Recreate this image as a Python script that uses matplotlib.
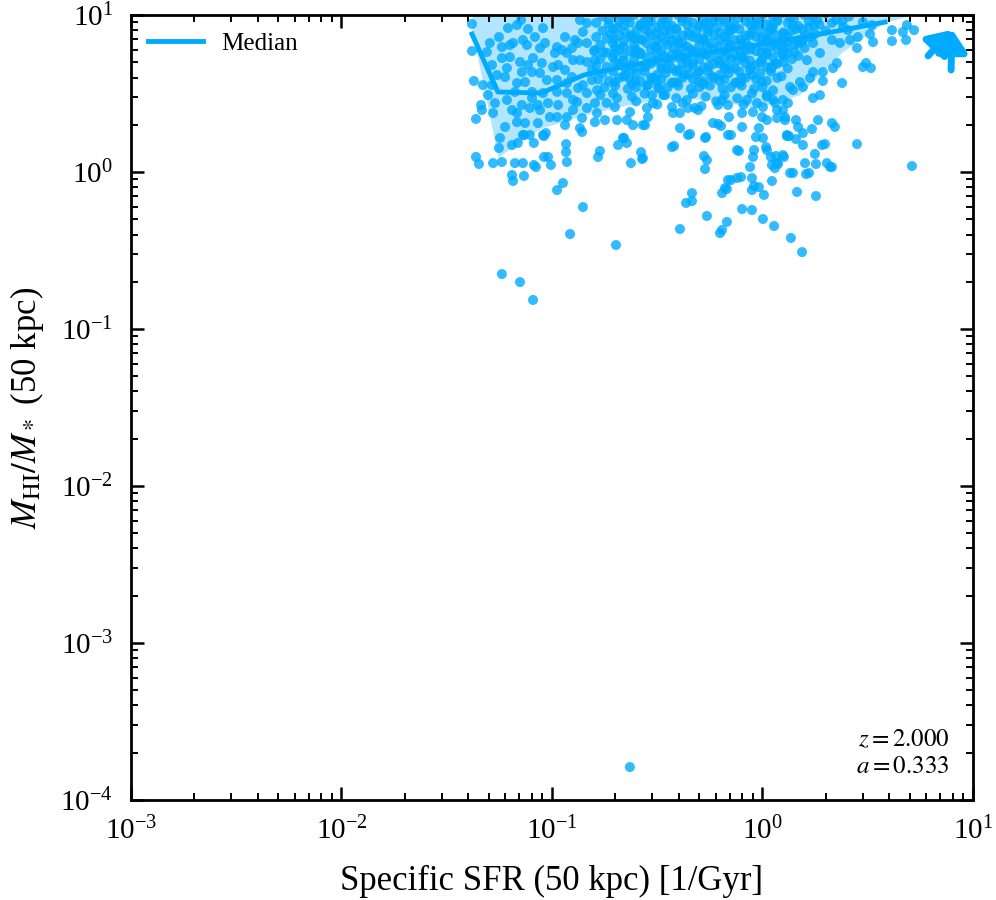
import numpy as np
import matplotlib.pyplot as plt

plt.rcParams['font.family'] = 'serif'
plt.rcParams['font.serif'] = ['Liberation Serif', 'DejaVu Serif']
plt.rcParams['mathtext.fontset'] = 'stix'

# all galaxy values given as log10(sSFR [1/Gyr]), log10(M_HI/M_*)
# dense core of the distribution
core = [
    [-0.76, 0.99], [-0.70, 1.01], [-0.66, 0.98], [-0.61, 1.00], [-0.55, 0.99], [-0.51, 1.01],
    [-0.45, 0.98], [-0.40, 1.00], [-0.36, 0.99], [-0.30, 1.01], [-0.25, 0.98], [-0.21, 1.00],
    [-0.15, 0.99], [-0.10, 1.01], [-0.06, 0.98], [0.00, 1.00], [0.05, 0.99], [0.09, 1.01],
    [0.15, 0.98], [0.20, 1.00], [0.24, 0.99], [0.30, 1.01], [0.35, 0.97], [0.41, 0.99],
    [-0.79, 0.95], [-0.73, 0.94], [-0.68, 0.96], [-0.63, 0.95], [-0.58, 0.94], [-0.53, 0.96],
    [-0.48, 0.95], [-0.43, 0.93], [-0.38, 0.96], [-0.33, 0.95], [-0.28, 0.94], [-0.23, 0.96],
    [-0.18, 0.95], [-0.13, 0.93], [-0.08, 0.96], [-0.03, 0.95], [0.02, 0.94], [0.07, 0.96],
    [0.12, 0.95], [0.17, 0.93], [0.22, 0.96], [0.27, 0.94], [0.33, 0.95],
    [-0.76, 0.90], [-0.71, 0.91], [-0.65, 0.89], [-0.60, 0.90], [-0.56, 0.91], [-0.50, 0.89],
    [-0.46, 0.90], [-0.41, 0.91], [-0.35, 0.89], [-0.31, 0.90], [-0.26, 0.91], [-0.20, 0.89],
    [-0.16, 0.90], [-0.11, 0.91], [-0.05, 0.89], [-0.01, 0.90], [0.04, 0.91], [0.10, 0.89],
    [0.14, 0.90], [0.19, 0.91], [0.25, 0.88], [0.30, 0.90],
    [-0.79, 0.86], [-0.74, 0.85], [-0.68, 0.87], [-0.63, 0.86], [-0.58, 0.85], [-0.53, 0.87],
    [-0.48, 0.86], [-0.43, 0.84], [-0.38, 0.87], [-0.33, 0.86], [-0.28, 0.85], [-0.23, 0.87],
    [-0.18, 0.86], [-0.13, 0.84], [-0.08, 0.87], [-0.03, 0.86], [0.02, 0.85], [0.07, 0.87],
    [0.12, 0.86], [0.17, 0.84], [0.23, 0.86],
    [-0.77, 0.81], [-0.71, 0.82], [-0.66, 0.80], [-0.61, 0.81], [-0.55, 0.82], [-0.51, 0.80],
    [-0.45, 0.81], [-0.40, 0.82], [-0.36, 0.80], [-0.30, 0.81], [-0.25, 0.82], [-0.21, 0.80],
    [-0.15, 0.81], [-0.10, 0.82], [-0.06, 0.80], [0.00, 0.81], [0.05, 0.82], [0.09, 0.80],
    [0.15, 0.81], [0.20, 0.79],
    [-0.80, 0.77], [-0.74, 0.76], [-0.68, 0.78], [-0.63, 0.77], [-0.58, 0.76], [-0.53, 0.78],
    [-0.48, 0.77], [-0.43, 0.75], [-0.38, 0.78], [-0.33, 0.77], [-0.28, 0.76], [-0.23, 0.78],
    [-0.18, 0.77], [-0.13, 0.75], [-0.08, 0.78], [-0.03, 0.77], [0.02, 0.76], [0.07, 0.78],
    [0.12, 0.76], [0.17, 0.74],
    [-0.77, 0.72], [-0.71, 0.73], [-0.66, 0.71], [-0.61, 0.72], [-0.55, 0.73], [-0.51, 0.71],
    [-0.45, 0.72], [-0.40, 0.73], [-0.36, 0.71], [-0.30, 0.72], [-0.25, 0.73], [-0.21, 0.71],
    [-0.15, 0.72], [-0.10, 0.73], [-0.06, 0.71], [0.00, 0.72], [0.05, 0.73], [0.10, 0.70],
    [0.14, 0.72],
    [-0.79, 0.68], [-0.74, 0.67], [-0.68, 0.69], [-0.63, 0.68], [-0.58, 0.67], [-0.53, 0.69],
    [-0.48, 0.68], [-0.43, 0.66], [-0.38, 0.69], [-0.33, 0.68], [-0.28, 0.67], [-0.23, 0.69],
    [-0.18, 0.68], [-0.13, 0.66], [-0.08, 0.69], [-0.03, 0.68], [0.02, 0.67], [0.07, 0.69],
    [0.12, 0.66],
    [-0.76, 0.63], [-0.71, 0.64], [-0.65, 0.62], [-0.60, 0.63], [-0.56, 0.64], [-0.50, 0.62],
    [-0.46, 0.63], [-0.41, 0.64], [-0.35, 0.62], [-0.31, 0.63], [-0.26, 0.64], [-0.20, 0.62],
    [-0.16, 0.63], [-0.11, 0.64], [-0.05, 0.62], [-0.01, 0.63], [0.04, 0.64], [0.09, 0.61],
    [-0.78, 0.59], [-0.73, 0.58], [-0.68, 0.60], [-0.63, 0.59], [-0.58, 0.58], [-0.53, 0.60],
    [-0.48, 0.59], [-0.43, 0.57], [-0.38, 0.60], [-0.33, 0.59], [-0.28, 0.58], [-0.23, 0.60],
    [-0.18, 0.59], [-0.13, 0.57], [-0.08, 0.60], [-0.03, 0.59], [0.02, 0.58], [0.07, 0.60],
    [-0.75, 0.54], [-0.70, 0.55], [-0.64, 0.53], [-0.60, 0.54], [-0.55, 0.55], [-0.49, 0.53],
    [-0.45, 0.54], [-0.40, 0.55], [-0.34, 0.53], [-0.30, 0.54], [-0.25, 0.55], [-0.19, 0.53],
    [-0.15, 0.54], [-0.10, 0.55], [-0.04, 0.53], [0.00, 0.54], [0.05, 0.52],
    [-0.77, 0.49], [-0.71, 0.50], [-0.62, 0.48], [-0.56, 0.50], [-0.47, 0.49], [-0.41, 0.47],
    [-0.33, 0.50], [-0.27, 0.48], [-0.18, 0.49], [-0.12, 0.47], [-0.05, 0.50], [0.02, 0.48],
    [-0.74, 0.44], [-0.60, 0.45], [-0.50, 0.43], [-0.38, 0.44], [-0.29, 0.42], [-0.22, 0.45],
    [-0.09, 0.43], [0.06, 0.44],
]

# second layer of the core, where the galaxies pile up most
core_dense = [
    [-0.73, 0.97], [-0.64, 0.98], [-0.56, 0.96], [-0.47, 0.97], [-0.38, 0.98], [-0.28, 0.96],
    [-0.19, 0.97], [-0.12, 0.98], [-0.02, 0.96], [0.07, 0.97], [0.13, 0.98], [0.26, 0.97],
    [0.38, 0.96],
    [-0.69, 0.92], [-0.58, 0.93], [-0.50, 0.92], [-0.41, 0.91], [-0.30, 0.93], [-0.22, 0.92],
    [-0.14, 0.91], [-0.04, 0.93], [0.05, 0.92], [0.16, 0.91], [0.22, 0.92],
    [-0.72, 0.88], [-0.62, 0.87], [-0.54, 0.89], [-0.44, 0.88], [-0.35, 0.87], [-0.26, 0.89],
    [-0.16, 0.88], [-0.06, 0.87], [0.03, 0.89], [0.10, 0.88], [0.20, 0.87],
    [-0.66, 0.83], [-0.57, 0.84], [-0.46, 0.83], [-0.38, 0.82], [-0.28, 0.84], [-0.17, 0.83],
    [-0.08, 0.82], [0.03, 0.84], [0.12, 0.83], [0.17, 0.82],
    [-0.70, 0.79], [-0.60, 0.78], [-0.50, 0.80], [-0.42, 0.79], [-0.34, 0.78], [-0.26, 0.80],
    [-0.16, 0.79], [-0.06, 0.78], [0.04, 0.80], [0.11, 0.79],
    [-0.66, 0.74], [-0.58, 0.75], [-0.47, 0.74], [-0.37, 0.73], [-0.27, 0.75], [-0.17, 0.74],
    [-0.09, 0.73], [0.02, 0.75], [0.10, 0.74],
    [-0.70, 0.70], [-0.55, 0.69], [-0.44, 0.71], [-0.33, 0.70], [-0.20, 0.69], [-0.12, 0.71],
    [-0.01, 0.70], [0.06, 0.69],
    [-0.62, 0.65], [-0.48, 0.66], [-0.40, 0.65], [-0.30, 0.64], [-0.18, 0.66], [-0.06, 0.65],
    [0.04, 0.66],
    [-0.66, 0.61], [-0.52, 0.60], [-0.37, 0.62], [-0.24, 0.61], [-0.10, 0.60],
    [-0.62, 0.56], [-0.42, 0.57], [-0.28, 0.56], [-0.12, 0.57],
]

# third layer filling the gaps of the two above
core_fill = [
    [-0.66, 0.935], [-0.545, 0.94], [-0.455, 0.93], [-0.355, 0.935], [-0.255, 0.94],
    [-0.155, 0.93], [-0.055, 0.935], [0.045, 0.94], [0.145, 0.93], [0.245, 0.935],
    [-0.705, 0.845], [-0.605, 0.85], [-0.505, 0.84], [-0.405, 0.845], [-0.305, 0.85],
    [-0.205, 0.84], [-0.105, 0.845], [-0.005, 0.85], [0.095, 0.84], [0.195, 0.845],
    [-0.705, 0.755], [-0.605, 0.76], [-0.505, 0.75], [-0.405, 0.755], [-0.305, 0.76],
    [-0.205, 0.75], [-0.105, 0.755], [-0.005, 0.76], [0.095, 0.75],
    [-0.655, 0.665], [-0.555, 0.67], [-0.455, 0.66], [-0.355, 0.665], [-0.255, 0.67],
    [-0.155, 0.66], [-0.055, 0.665], [0.045, 0.67],
    [-0.605, 0.575], [-0.505, 0.58], [-0.405, 0.57], [-0.305, 0.575], [-0.205, 0.58],
    [-0.105, 0.57], [-0.005, 0.575],
]

# low-sSFR side of the cloud
upper_left = [
    [-1.380, 0.943], [-1.380, 0.771], [-1.371, 0.580], [-1.361, 0.338], [-1.333, 0.395],
    [-1.337, 0.427], [-1.295, 0.822], [-1.309, 0.764], [-1.285, 0.682], [-1.261, 0.618],
    [-1.328, 0.554], [-1.304, 0.490], [-1.280, 0.376], [-1.252, 0.860], [-1.209, 0.917],
    [-1.166, 0.936], [-1.147, 0.968], [-1.114, 0.911], [-1.081, 0.860], [-1.043, 0.917],
    [-1.033, 0.822], [-0.976, 0.796], [-0.938, 0.860], [-0.952, 0.777], [-0.891, 0.841],
    [-0.876, 0.822], [-0.834, 0.822], [-0.853, 0.892], [-0.867, 0.968], [-0.834, 0.949],
    [-1.200, 0.809], [-1.185, 0.822], [-1.238, 0.726], [-1.200, 0.732], [-1.152, 0.701],
    [-1.114, 0.682], [-1.090, 0.726], [-1.048, 0.694], [-1.095, 0.637], [-1.057, 0.631],
    [-1.128, 0.573], [-1.166, 0.567], [-1.223, 0.605], [-1.176, 0.510], [-1.095, 0.510],
    [-0.995, 0.669], [-0.971, 0.682], [-0.938, 0.650], [-0.976, 0.586], [-0.905, 0.605],
    [-0.900, 0.713], [-0.867, 0.713], [-0.834, 0.701], [-0.796, 0.713], [-0.810, 0.586],
    [-0.786, 0.522], [-0.834, 0.503], [-0.876, 0.535], [-0.929, 0.503], [-0.976, 0.510],
    [-1.043, 0.503], [-1.143, 0.427], [-1.190, 0.395], [-1.166, 0.376], [-1.105, 0.408],
    [-1.067, 0.427], [-1.057, 0.395], [-1.019, 0.439], [-0.971, 0.427], [-1.010, 0.350],
    [-0.976, 0.350], [-0.929, 0.350], [-0.900, 0.395], [-0.881, 0.446], [-0.834, 0.408],
    [-0.796, 0.439], [-0.786, 0.376], [-1.166, 0.318], [-1.128, 0.312], [-1.067, 0.312],
    [-1.105, 0.236], [-1.223, 0.287], [-1.138, 0.236], [-1.043, 0.236], [-0.938, 0.299],
    [-0.867, 0.280], [-0.857, 0.344], [-0.796, 0.318], [-0.748, 0.331],
    [-1.138, 0.841], [-1.119, 0.809], [-1.057, 0.790], [-0.986, 0.758], [-0.929, 0.758],
    [-0.905, 0.790], [-0.796, 0.777], [-0.810, 0.650], [-0.757, 0.764], [-1.143, 0.637],
    [-1.214, 0.662], [-1.285, 0.554], [-1.024, 0.586], [-0.929, 0.567], [-0.853, 0.554],
    [-1.271, 0.439], [-1.214, 0.459], [-1.095, 0.471], [-0.900, 0.459], [-0.691, 0.471],
    [-0.701, 0.573], [-1.238, 0.796],
]

# high-sSFR side of the cloud
right_wing = [
    [0.615, 0.904], [0.615, 0.834], [0.667, 0.892], [0.682, 0.841], [0.686, 0.936],
    [0.720, 0.904], [0.520, 0.936], [0.511, 0.879], [0.525, 0.828], [0.477, 0.669],
    [0.515, 0.662], [0.492, 0.694], [0.378, 0.567], [0.287, 0.580], [0.273, 0.490],
    [0.240, 0.471], [0.335, 0.662], [0.354, 0.694], [0.264, 0.331], [0.330, 0.312],
    [0.344, 0.287], [0.283, 0.172], [0.321, 0.032], [0.131, -0.006], [0.207, -0.013],
    [0.192, 0.248], [0.235, 0.274], [0.159, 0.331], [0.169, 0.287], [0.116, 0.229],
    [0.449, 0.790], [0.416, 0.841], [0.453, 0.860], [0.477, 0.955], [0.406, 0.904],
    [0.383, 0.924], [0.368, 0.822], [0.330, 0.841], [0.273, 0.758], [0.240, 0.822],
    [0.188, 0.828], [0.154, 0.764], [0.211, 0.713], [0.178, 0.573], [0.145, 0.522],
    [0.192, 0.541], [0.226, 0.599], [0.287, 0.637], [0.240, 0.637], [0.121, 0.439],
    [0.131, 0.541], [0.097, 0.395], [0.107, 0.350],
]

# scattered galaxies below the main cloud
lower = [
    [-0.696, -0.465], [-0.914, -0.395], [-0.853, -0.223], [-0.976, -0.115], [-0.948, -0.070],
    [-0.392, -0.363], [-0.202, -0.389], [-0.192, -0.369], [-0.169, -0.318], [-0.264, -0.280],
    [-0.097, -0.236], [-0.050, -0.242], [0.002, -0.299], [0.055, -0.344], [0.135, -0.420],
    [0.188, -0.510], [-0.363, -0.197], [-0.335, -0.185], [-0.335, -0.134], [-0.192, -0.134],
    [-0.169, -0.108], [-0.150, -0.051], [-0.102, -0.032], [-0.050, -0.038], [-0.040, -0.089],
    [-0.050, -0.115], [-0.017, -0.096], [0.007, -0.146], [0.045, -0.057], [0.145, -0.006],
    [0.221, -0.006], [0.164, -0.127], [0.254, -0.153], [0.710, 0.038], [0.449, 0.178],
    [-0.059, 0.032], [0.059, 0.025], [0.074, 0.051], [0.202, 0.057], [0.254, 0.051],
    [0.306, 0.057], [0.330, 0.032], [0.249, 0.115], [0.297, 0.178], [0.192, 0.172],
    [0.159, 0.210], [0.126, 0.229], [0.102, 0.096], [0.064, 0.102], [0.040, 0.096],
    [0.017, 0.159], [0.002, 0.217], [-0.031, 0.223], [-0.017, 0.280], [-0.040, 0.140],
    [-0.045, 0.096], [-0.112, 0.134], [-0.150, 0.236], [-0.097, 0.287], [-0.211, 0.306],
    [-0.197, 0.293], [-0.268, 0.223], [-0.344, 0.242], [-0.392, 0.280], [-0.420, 0.166],
    [-0.278, 0.102], [-0.264, 0.076], [-0.273, 0.019], [-0.568, 0.089], [-0.577, 0.127],
    [-0.625, 0.057], [-0.658, 0.217], [-0.644, 0.185], [-0.686, 0.172], [-0.558, 0.299],
    [-0.781, 0.096], [-0.772, 0.134], [-0.857, 0.255], [-0.929, 0.064], [-0.933, 0.127],
    [-0.933, 0.178], [-1.005, 0.045], [-1.019, 0.096], [-1.038, 0.096], [-1.086, 0.045],
    [-1.076, 0.032], [-1.133, -0.025], [-1.190, -0.019], [-1.185, -0.057], [-1.138, 0.057],
    [-1.176, 0.057], [-1.238, 0.064], [-1.280, 0.057], [-1.347, 0.051], [-1.361, 0.096],
    [-1.252, 0.153], [-1.247, 0.217], [-1.190, 0.172], [-1.162, 0.185], [-1.133, 0.236],
    [-1.086, 0.185], [-1.038, 0.229], [-1.029, 0.248],
    [-0.663, 0.217], [-0.572, 0.083], [-0.568, 0.299], [-0.615, 0.299], [-0.644, 0.331],
    [-0.691, 0.331], [-0.701, 0.414], [-0.629, 0.382], [-0.544, 0.350], [-0.549, 0.408],
    [-0.520, 0.439], [-0.525, 0.490], [-0.496, 0.541], [-0.544, 0.554], [-0.463, 0.490],
    [-0.430, 0.414], [-0.425, 0.376], [-0.392, 0.376], [-0.354, 0.236], [-0.430, 0.159],
    [-0.359, 0.459], [-0.354, 0.408], [-0.321, 0.408], [-0.306, 0.395], [-0.273, 0.217],
    [-0.235, 0.312], [-0.211, 0.427], [-0.192, 0.459], [-0.164, 0.427], [-0.159, 0.350],
    [-0.164, 0.236], [-0.121, 0.140], [-0.097, 0.376], [-0.074, 0.459], [-0.026, 0.439],
    [-0.045, 0.382], [0.002, 0.414], [-0.002, 0.350], [0.021, 0.331], [0.069, 0.344],
    [0.069, 0.395], [0.107, 0.331], [0.097, 0.459], [0.050, 0.459], [0.021, 0.490],
    [0.116, 0.236], [0.021, 0.140], [0.045, 0.045], [0.069, 0.057], [0.097, 0.108],
    [-0.121, -0.038], [-0.164, -0.051], [-0.178, -0.102],
]

# the few far outliers
outliers = [[-0.630, -3.790], [-1.238, -0.650], [-1.152, -0.701], [-1.090, -0.815]]

# running median and 16-84 percentile band
med_lx = [-1.380, -1.257, -1.052, -0.848, -0.644, -0.439, -0.235, -0.031, 0.173, 0.378, 0.582]
med_ly = [0.879, 0.510, 0.503, 0.618, 0.675, 0.726, 0.764, 0.809, 0.854, 0.904, 0.955]
band_lx = [-1.380, -1.257, -1.052, -0.848, -0.644, -0.439, -0.235, -0.031, 0.173, 0.378, 0.582, 0.710]
band_lo = [0.904, 0.096, 0.280, 0.363, 0.427, 0.471, 0.459, 0.408, 0.490, 0.764, 0.955, 1.0]
band_hi = [1.2, 1.2, 1.2, 1.2, 1.2, 1.2, 1.2, 1.2, 1.2, 1.2, 1.2, 1.2]

redshift = 2.0
scale_factor = 1.0 / (1.0 + redshift)

col = '#00aaff'

pts = np.array(core + core_dense + core_fill + upper_left + right_wing + lower + outliers)
ssfr = 10 ** pts[:, 0]
ratio = 10 ** pts[:, 1]

fig = plt.figure(figsize=(9.96, 9.0), dpi=100)
ax = fig.add_axes([0.1315, 0.1111, 0.8454, 0.8722])

ax.fill_between(10 ** np.array(band_lx), 10 ** np.array(band_lo), 10 ** np.array(band_hi),
                color=col, alpha=0.3, lw=0, zorder=1)
ax.plot(10 ** np.array(med_lx), 10 ** np.array(med_ly), color=col, lw=3.5, label='Median', zorder=1.5)
ax.scatter(ssfr, ratio, s=52, color=col, alpha=0.8, edgecolors='none', zorder=2)

ax.set_xscale('log')
ax.set_yscale('log')
ax.set_xlim(1e-3, 1e1)
ax.set_ylim(1e-4, 1e1)

# arrows for galaxies off the top of the plot
arrow_kw = dict(arrowstyle='-|>,head_length=0.55,head_width=0.38', color=col, lw=5,
                mutation_scale=24, shrinkA=0, shrinkB=0)
ax.annotate('', xy=(0.975, 0.982), xytext=(0.974, 0.930), xycoords='axes fraction',
            arrowprops=arrow_kw)
ax.annotate('', xy=(0.975, 0.981), xytext=(0.9466, 0.948), xycoords='axes fraction',
            arrowprops=arrow_kw)

ax.tick_params(which='both', direction='in', top=True, right=True, labelsize=21)
ax.tick_params(which='major', length=9.5, width=1.8)
ax.tick_params(which='minor', length=5, width=1.4)
ax.tick_params(axis='x', which='major', pad=12)
ax.tick_params(axis='y', which='major', pad=13)
for sp in ax.spines.values():
    sp.set_linewidth(2)

ax.set_xlabel('Specific SFR (50 kpc) [1/Gyr]', fontsize=25, labelpad=14)
ax.set_ylabel(r'$M_{\rm HI}/M_*$ (50 kpc)', fontsize=25, labelpad=10)

ax.text(0.972, 0.028, '$z = %.3f$\n$a = %.3f$' % (redshift, scale_factor), transform=ax.transAxes,
        ha='right', va='bottom', fontsize=18, linespacing=1.3)

ax.legend(loc='upper left', frameon=False, fontsize=18, handlelength=2.2, handletextpad=0.7,
          borderaxespad=0.3)

fig.savefig('out.png', dpi=100)
